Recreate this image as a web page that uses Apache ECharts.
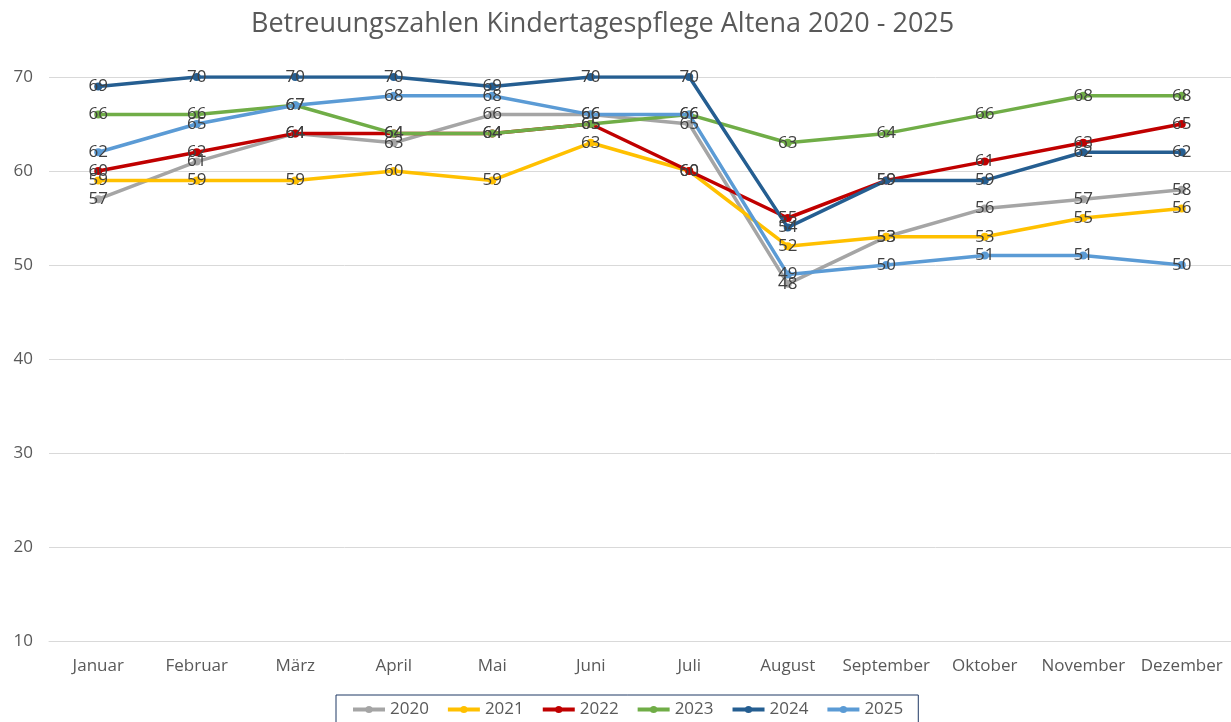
<!DOCTYPE html>
<html lang="de">
<head>
  <meta charset="UTF-8">
  <title>Betreuungszahlen Kindertagespflege Altena</title>
  <style>
    html, body { margin: 0; padding: 0; background: #fff; }
    #chart { width: 1231px; height: 722px; }
  </style>
</head>
<body>
  <div id="chart"></div>
  <script src="https://cdn.jsdelivr.net/npm/echarts@6/dist/echarts.min.js"></script>
  <script>
    // Monate
    const months = ['Januar', 'Februar', 'März', 'April', 'Mai', 'Juni', 'Juli', 'August', 'September', 'Oktober', 'November', 'Dezember']
    const years = ['2020', '2021', '2022', '2023', '2024', '2025']

    // Betreuungszahlen je Jahr
    const y2020 = [57, 61, 64, 63, 66, 66, 65, 48, 53, 56, 57, 58]
    const y2021 = [59, 59, 59, 60, 59, 63, 60, 52, 53, 53, 55, 56]
    const y2022 = [60, 62, 64, 64, 64, 65, 60, 55, 59, 61, 63, 65]
    const y2023 = [66, 66, 67, 64, 64, 65, 66, 63, 64, 66, 68, 68]
    const y2024 = [69, 70, 70, 70, 69, 70, 70, 54, 59, 59, 62, 62]
    const y2025 = [62, 65, 67, 68, 68, 66, 66, 49, 50, 51, 51, 50]

    const yTicks = { min: 10, max: 70, interval: 10 }

    const colors = ['#A5A5A5', '#FFC000', '#C00000', '#70AD47', '#255E91', '#5B9BD5']
    const allData = [y2020, y2021, y2022, y2023, y2024, y2025]
    const font = 'Open Sans'

    let series = []
    for (let i = 0; i < years.length; i++) {
      series.push({
        name: years[i],
        type: 'line',
        data: allData[i],
        symbol: 'circle',
        symbolSize: 8,
        lineStyle: { width: 3.5, color: colors[i] },
        itemStyle: { color: colors[i] },
        label: {
          show: true,
          position: 'inside',
          color: '#404040',
          fontSize: 17,
          fontFamily: font
        },
        emphasis: { disabled: true }
      })
    }

    let myChart = echarts.init(document.getElementById('chart'))
    let option = {
      animation: false,
      title: {
        text: 'Betreuungszahlen Kindertagespflege Altena 2020 - 2025',
        left: 246,
        top: 6,
        textStyle: { color: '#595959', fontSize: 27, fontWeight: 'normal', fontFamily: font }
      },
      legend: {
        data: years,
        bottom: -14,
        left: 336,
        padding: [6, 15, 18, 15],
        itemGap: 17,
        itemWidth: 32,
        itemHeight: 9,
        lineStyle: { width: 4 },
        borderColor: '#1F3864',
        borderWidth: 1,
        textStyle: { color: '#595959', fontSize: 17, fontFamily: font }
      },
      grid: {
        left: 49,
        right: 0,
        top: 77,
        bottom: 81,
        outerBoundsMode: 'none'
      },
      xAxis: {
        type: 'category',
        data: months,
        boundaryGap: true,
        axisLine: { lineStyle: { color: '#D9D9D9' } },
        axisTick: { show: false },
        axisLabel: { color: '#595959', fontSize: 17, fontFamily: font, margin: 17, interval: 0 }
      },
      yAxis: {
        type: 'value',
        min: yTicks.min,
        max: yTicks.max,
        interval: yTicks.interval,
        axisLine: { show: false },
        axisTick: { show: false },
        axisLabel: { color: '#595959', fontSize: 17, fontFamily: font, margin: 16 },
        splitLine: { lineStyle: { color: '#D9D9D9', width: 1 } }
      },
      series: series
    }
    myChart.setOption(option)
  </script>
</body>
</html>
